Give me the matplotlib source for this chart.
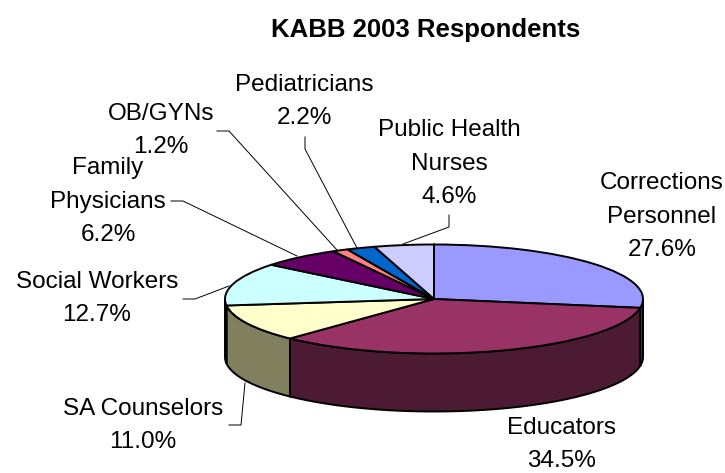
import numpy as np
import matplotlib
matplotlib.use('Agg')
import matplotlib.pyplot as plt

plt.rcParams['font.family'] = ['Liberation Sans', 'DejaVu Sans']

W, H = 725, 473

groups = ['Corrections\nPersonnel', 'Educators', 'SA Counselors', 'Social Workers',
          'Family\nPhysicians', 'OB/GYNs', 'Pediatricians', 'Public Health\nNurses']
percent = [27.6, 34.5, 11.0, 12.7, 6.2, 1.2, 2.2, 4.6]
top_colors = ['#9999FF', '#993366', '#FFFFCC', '#CCFFFF', '#660066', '#FF8080', '#0066CC', '#CCCCFF']
side_colors = ['#4D4D80', '#4C1A33', '#80805F', '#668080', '#330033', '#804040', '#003366', '#666680']

# label centres and leader lines, in pixels from the top left
label_pos = [(662, 216.5), (562, 444.5), (143, 425.5), (97, 298.5), (108, 201.5), (161, 130.5), (304, 101.5), (449, 163.5)]
leaders = [None, None,
           [(229, 425), (241, 425), (245, 383)],
           [(183, 299), (195, 299), (229, 286)],
           [(171, 201), (183, 201), (297, 256)],
           [(217, 131), (229, 131), (337, 250)],
           [(305, 137), (305, 149), (357, 248)],
           [(449, 215), (449, 227), (403, 244)]]

# pie geometry in pixels
cx, cy, rx, ry, depth = 434, 299, 209, 54.5, 58

fig = plt.figure(figsize=(W / 100, H / 100), dpi=100)

# wall layer in pixel coordinates
ax = fig.add_axes([0, 0, 1, 1], zorder=1)
ax.set_xlim(0, W)
ax.set_ylim(H, 0)
ax.axis('off')

# side wall, front half of the ellipse only
edges = np.concatenate([[0], np.cumsum(percent)]) * 3.6
for i in range(len(percent)):
    a0, a1 = max(edges[i], 90), min(edges[i + 1], 270)
    if a1 <= a0:
        continue
    t = np.radians(np.linspace(a0, a1, 80))
    x = cx + rx * np.sin(t)
    y = cy - ry * np.cos(t)
    xs = np.concatenate([x, x[::-1]])
    ys = np.concatenate([y, (y + depth)[::-1]])
    ax.fill(xs, ys, facecolor=side_colors[i], edgecolor='black', linewidth=1.4)

# pie axes: a unit circle squashed into the ellipse
pie_ax = fig.add_axes([(cx - rx) / W, 1 - (cy + ry) / H, 2 * rx / W, 2 * ry / H], zorder=2)
pie_ax.pie(percent, colors=top_colors, startangle=90, counterclock=False, radius=1,
           wedgeprops=dict(edgecolor='black', linewidth=1.4))
pie_ax.set_aspect('auto')
pie_ax.set_xlim(-1, 1)
pie_ax.set_ylim(-1, 1)
for p in pie_ax.patches:
    p.set_clip_on(False)
pie_ax.patch.set_alpha(0)

# text goes on its own layer above the pie
txt = fig.add_axes([0, 0, 1, 1], zorder=3)
txt.set_xlim(0, W)
txt.set_ylim(H, 0)
txt.axis('off')
for name, pct, pos, line in zip(groups, percent, label_pos, leaders):
    txt.text(pos[0], pos[1], f'{name}\n{pct:.1f}%', ha='center', va='center',
             fontsize=17.5, linespacing=1.65, color='black')
    if line:
        txt.plot(*zip(*line), color='black', lw=0.7)
txt.text(426, 30, 'KABB 2003 Respondents', ha='center', va='center',
         fontsize=18.5, fontweight='bold', color='black')

fig.savefig('out.png', dpi=100)
